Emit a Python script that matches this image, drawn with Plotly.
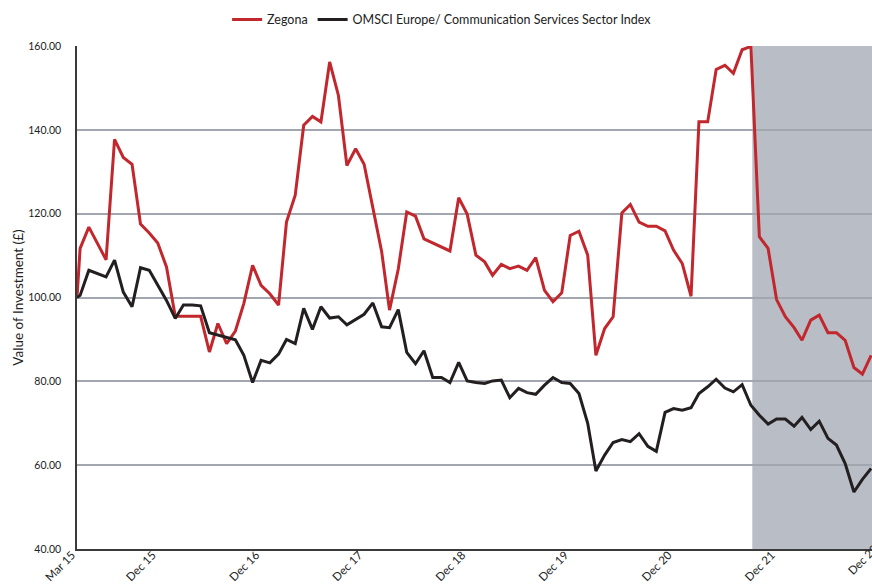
import pandas as pd
import plotly.graph_objects as go

# ---- data (monthly) ----
start_date = "2015-03-04"
first_month = "2015-03-01"

zegona = [100.0,
          111.7, 116.8, 112.9, 109.0, 137.7, 133.4, 131.8, 117.5, 115.4, 113.0,
          107.3, 95.5, 95.5, 95.5, 95.5, 87.0, 93.8, 89.0, 92.0, 98.6,
          107.7, 102.9, 100.9, 98.2, 118.0, 124.4, 141.1, 143.2, 141.9, 156.2,
          148.2, 131.5, 135.5, 131.8, 121.5, 111.0, 97.0, 106.8, 120.4, 119.4,
          114.0, 113.0, 112.1, 111.1, 123.8, 119.9, 110.1, 108.5, 105.3, 107.9,
          106.9, 107.5, 106.5, 109.5, 101.7, 99.0, 101.1, 114.8, 115.8, 110.1,
          86.2, 92.6, 95.4, 120.2, 122.2, 118.0, 117.0, 117.0, 115.9, 111.3,
          108.1, 100.3, 141.9, 141.9, 154.4, 155.4, 153.5, 159.1, 159.9, 114.5,
          111.7, 99.5, 95.4, 92.8, 89.8, 94.6, 95.8, 91.6, 91.6, 89.8,
          83.3, 81.7, 86.2]

msci = [100.0,
        100.5, 106.5, 105.7, 104.9, 108.9, 101.3, 97.8, 107.1, 106.5, 102.9,
        99.3, 95.0, 98.2, 98.2, 98.0, 91.6, 91.0, 90.4, 89.9, 86.2,
        79.7, 85.0, 84.4, 86.5, 90.0, 89.0, 97.4, 92.4, 97.8, 95.1,
        95.4, 93.5, 94.7, 96.0, 98.7, 93.0, 92.8, 97.1, 86.9, 84.2,
        87.3, 80.9, 80.9, 79.7, 84.5, 80.1, 79.7, 79.5, 80.1, 80.3,
        76.1, 78.3, 77.3, 76.9, 79.1, 80.9, 79.7, 79.5, 77.1, 70.0,
        58.6, 62.4, 65.4, 66.1, 65.6, 67.5, 64.5, 63.3, 72.6, 73.5,
        73.1, 73.7, 77.1, 78.7, 80.5, 78.4, 77.5, 79.2, 74.3, 71.9,
        69.8, 71.0, 71.0, 69.3, 71.4, 68.5, 70.5, 66.4, 64.8, 60.4,
        53.6, 56.6, 59.2]

tick_dates = ["2015-03-04", "2015-12-15", "2016-12-15", "2017-12-15", "2018-12-15",
              "2019-12-15", "2020-12-15", "2021-12-15"]
tick_labels = ["Mar 15", "Dec 15", "Dec 16", "Dec 17", "Dec 18",
               "Dec 19", "Dec 20", "Dec 21"]
extra_tick_label = "Dec 22"

shade_start = "2021-09-20"
x_end = "2022-11-18"
y_ticks = [40, 60, 80, 100, 120, 140, 160]

names = ["Zegona", "OMSCI Europe/ Communication Services Sector Index"]
colors = ["#C1272D", "#231F20"]

# ---- build ----
monthly = pd.date_range(first_month, periods=len(zegona) - 1, freq="MS") + pd.Timedelta(days=14)
dates = [pd.Timestamp(start_date)] + list(monthly)

fig = go.Figure()
for name, vals, col in zip(names, [zegona, msci], colors):
    fig.add_trace(go.Scatter(x=dates, y=vals, mode="lines", name=name,
                             line=dict(color=col, width=3)))

fig.add_shape(type="rect", xref="x", yref="paper", x0=shade_start, x1="2023-06-01",
              y0=0, y1=1, fillcolor="#B9BDC5", line=dict(width=0), layer="below")

font_family = "Lato, 'Open Sans', sans-serif"

fig.update_layout(
    width=872, height=585,
    margin=dict(l=77, r=0, t=46, b=36, autoexpand=False),
    paper_bgcolor="white", plot_bgcolor="white",
    font=dict(family=font_family, color="#222222"),
    showlegend=True,
    legend=dict(orientation="h", xref="container", yref="container",
                x=0.507, y=0.966, xanchor="center", yanchor="middle",
                font=dict(size=12.5, color="#222222"), itemwidth=30,
                traceorder="normal"),
    xaxis=dict(type="date", range=[start_date, x_end],
               tickmode="array", tickvals=tick_dates, ticktext=tick_labels,
               tickangle=-45, tickfont=dict(size=11.5, color="#222222"),
               ticklabelstandoff=-7, ticklabelshift=-5,
               showgrid=False, showline=True, linecolor="#3a3a3a", linewidth=2,
               ticks="", zeroline=False, automargin=False),
    yaxis=dict(range=[40, 160], tickmode="array", tickvals=y_ticks,
               tickformat=".2f", tickfont=dict(size=10.5, color="#222222"),
               showgrid=True, gridcolor="#A2A6AE", gridwidth=1.5,
               showline=True, linecolor="#3a3a3a", linewidth=1.5,
               ticks="", ticklabelstandoff=12, zeroline=False, automargin=False,
               title=dict(text="Value of Investment (£)", font=dict(size=13.5, color="#222222"),
                          standoff=1)),
)

fig.add_annotation(text=extra_tick_label, xref="paper", yref="paper",
                   x=0.988, y=-0.020, xanchor="center", yanchor="middle",
                   textangle=-45, showarrow=False,
                   font=dict(size=11.5, color="#222222", family=font_family))

fig.write_html("out.html", config={"displayModeBar": False},
               post_script="document.body.style.margin='0px';document.body.style.overflow='hidden';")
